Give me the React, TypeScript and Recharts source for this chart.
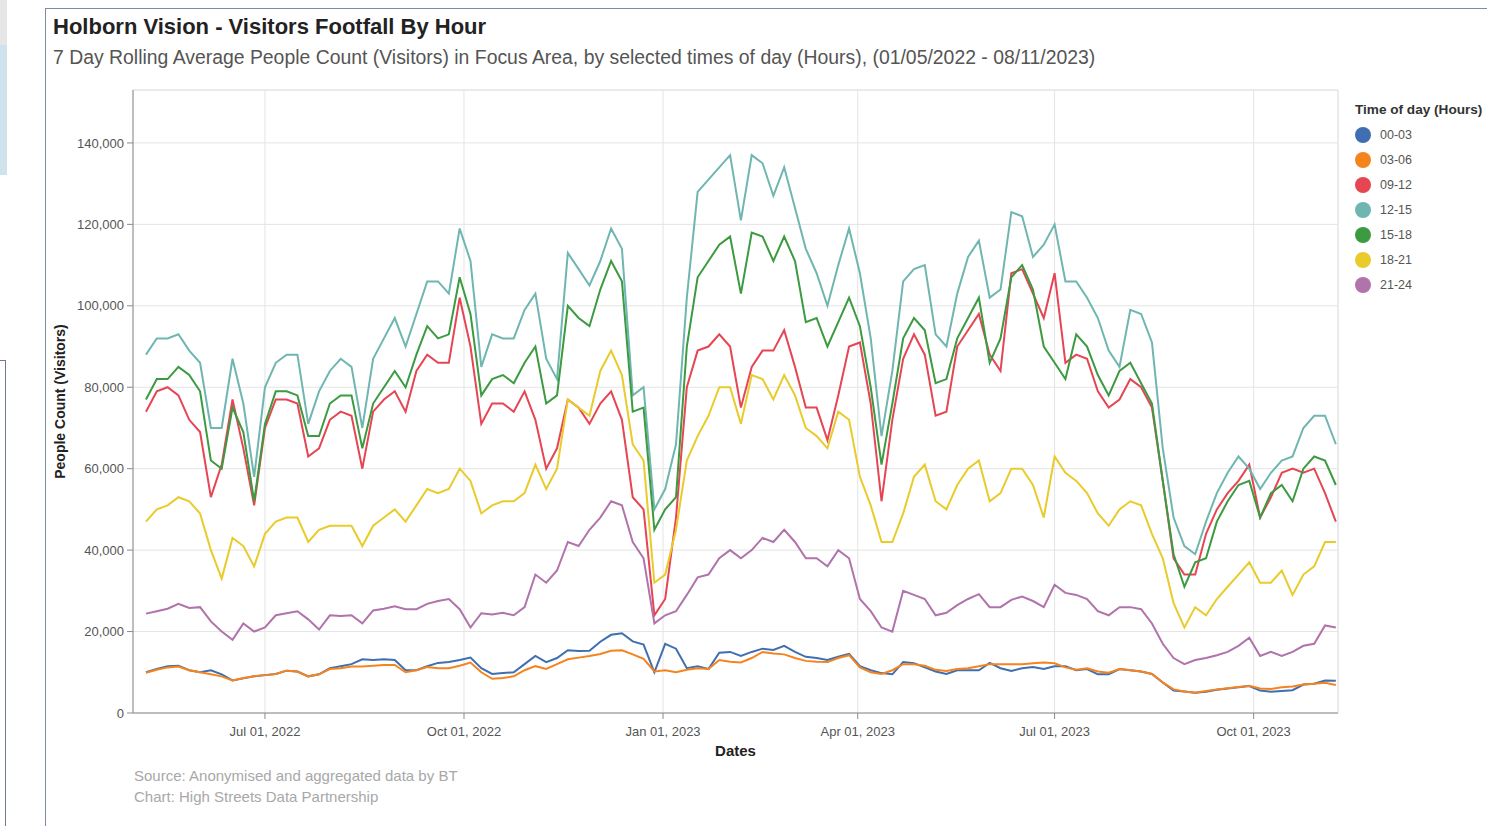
import React from "react";
import { LineChart, Line, XAxis, YAxis, CartesianGrid, ReferenceLine } from "recharts";

// 7-day rolling average, sampled every 5 days
const DATES = [
  "2022-05-07", "2022-05-12", "2022-05-17", "2022-05-22", "2022-05-27",
  "2022-06-01", "2022-06-06", "2022-06-11", "2022-06-16", "2022-06-21", "2022-06-26",
  "2022-07-01", "2022-07-06", "2022-07-11", "2022-07-16", "2022-07-21", "2022-07-26", "2022-07-31",
  "2022-08-05", "2022-08-10", "2022-08-15", "2022-08-20", "2022-08-25", "2022-08-30",
  "2022-09-04", "2022-09-09", "2022-09-14", "2022-09-19", "2022-09-24", "2022-09-29",
  "2022-10-04", "2022-10-09", "2022-10-14", "2022-10-19", "2022-10-24", "2022-10-29",
  "2022-11-03", "2022-11-08", "2022-11-13", "2022-11-18", "2022-11-23", "2022-11-28",
  "2022-12-03", "2022-12-08", "2022-12-13", "2022-12-18", "2022-12-23", "2022-12-28",
  "2023-01-02", "2023-01-07", "2023-01-12", "2023-01-17", "2023-01-22", "2023-01-27",
  "2023-02-01", "2023-02-06", "2023-02-11", "2023-02-16", "2023-02-21", "2023-02-26",
  "2023-03-03", "2023-03-08", "2023-03-13", "2023-03-18", "2023-03-23", "2023-03-28",
  "2023-04-02", "2023-04-07", "2023-04-12", "2023-04-17", "2023-04-22", "2023-04-27",
  "2023-05-02", "2023-05-07", "2023-05-12", "2023-05-17", "2023-05-22", "2023-05-27",
  "2023-06-01", "2023-06-06", "2023-06-11", "2023-06-16", "2023-06-21", "2023-06-26",
  "2023-07-01", "2023-07-06", "2023-07-11", "2023-07-16", "2023-07-21", "2023-07-26", "2023-07-31",
  "2023-08-05", "2023-08-10", "2023-08-15", "2023-08-20", "2023-08-25", "2023-08-30",
  "2023-09-04", "2023-09-09", "2023-09-14", "2023-09-19", "2023-09-24", "2023-09-29",
  "2023-10-04", "2023-10-09", "2023-10-14", "2023-10-19", "2023-10-24", "2023-10-29",
  "2023-11-03", "2023-11-08",
];

const H00_03 = [
  10000, 10800, 11500, 11600, 10500, 10000, 10500, 9500, 8000, 8500,
  9000, 9300, 9600, 10400, 10200, 9000, 9500, 11000, 11500, 12000,
  13200, 13000, 13200, 13000, 10500, 10500, 11500, 12300, 12500, 13000,
  13600, 11000, 9600, 9800, 10000, 12000, 14000, 12500, 13500, 15400,
  15200, 15300, 17500, 19200, 19600, 17600, 16800, 10000, 17000, 15800,
  11000, 11500, 10800, 14800, 15000, 14000, 15000, 15800, 15500, 16500,
  15000, 13800, 13500, 13000, 13800, 14500, 11500, 10500, 9800, 9500,
  12500, 12200, 11200, 10200, 9600, 10500, 10500, 10500, 12300, 11000,
  10300, 11000, 11300, 10800, 11500, 11500, 10500, 10800, 9500, 9500,
  10800, 10500, 10200, 9600, 7500, 5500, 5300, 5000, 5200, 5700,
  6000, 6300, 6600, 5500, 5200, 5400, 5600, 7000, 7200, 8000,
  7900,
];

const H03_06 = [
  9900, 10600, 11200, 11400, 10500, 10000, 9500, 9000, 8000, 8600,
  9000, 9300, 9600, 10400, 10200, 9000, 9500, 10800, 11000, 11400,
  11400, 11600, 11800, 11800, 10000, 10500, 11300, 11000, 11000, 11600,
  12400, 10000, 8400, 8600, 9000, 10500, 11500, 10800, 12000, 13200,
  13600, 14000, 14500, 15300, 15400, 14400, 13300, 10200, 10500, 10000,
  10600, 11000, 10800, 13000, 12600, 12400, 13500, 15000, 14600, 14400,
  13500, 12800, 12600, 12500, 13500, 14200, 11200, 10000, 9600, 10500,
  12000, 12000, 11600, 10600, 10300, 10800, 11000, 11500, 12000, 12000,
  12000, 12000, 12200, 12400, 12200, 11200, 10600, 11000, 10200, 9900,
  10800, 10500, 10200, 9600, 7500, 5800, 5300, 5000, 5400, 5800,
  6100, 6400, 6700, 6000, 5900, 6300, 6500, 7000, 7200, 7400,
  6900,
];

const H09_12 = [
  74000, 79000, 80000, 78000, 72000, 69000, 53000, 61000, 77000, 65000,
  51000, 70000, 77000, 77000, 76000, 63000, 65000, 72000, 74000, 73000,
  60000, 74000, 77000, 79000, 74000, 84000, 88000, 86000, 86000, 102000,
  90000, 71000, 76000, 76000, 74000, 79000, 72000, 60000, 65000, 77000,
  75000, 71000, 76000, 79000, 72000, 53000, 50000, 24000, 28000, 48000,
  80000, 89000, 90000, 93000, 90000, 75000, 85000, 89000, 89000, 94000,
  85000, 75000, 75000, 67000, 78000, 90000, 91000, 76000, 52000, 72000,
  87000, 93000, 88000, 73000, 74000, 90000, 94000, 98000, 88000, 84000,
  108000, 109000, 103000, 97000, 108000, 86000, 88000, 87000, 79000, 75000,
  77000, 82000, 80000, 75000, 57000, 38000, 34000, 34000, 44000, 50000,
  54000, 57000, 61000, 48000, 53000, 59000, 60000, 59000, 60000, 54000,
  47000,
];

const H12_15 = [
  88000, 92000, 92000, 93000, 89000, 86000, 70000, 70000, 87000, 76000,
  58000, 80000, 86000, 88000, 88000, 71000, 79000, 84000, 87000, 85000,
  70000, 87000, 92000, 97000, 90000, 98000, 106000, 106000, 103000, 119000,
  111000, 85000, 93000, 92000, 92000, 99000, 103000, 87000, 82000, 113000,
  109000, 105000, 111000, 119000, 114000, 78000, 80000, 50000, 55000, 66000,
  102000, 128000, 131000, 134000, 137000, 121000, 137000, 135000, 127000, 134000,
  124000, 114000, 108000, 100000, 110000, 119000, 108000, 92000, 68000, 84000,
  106000, 109000, 110000, 93000, 90000, 103000, 112000, 116000, 102000, 104000,
  123000, 122000, 112000, 115000, 120000, 106000, 106000, 102000, 97000, 89000,
  85000, 99000, 98000, 91000, 65000, 48000, 41000, 39000, 47000, 54000,
  59000, 63000, 60000, 55000, 59000, 62000, 63000, 70000, 73000, 73000,
  66000,
];

const H15_18 = [
  77000, 82000, 82000, 85000, 83000, 79000, 62000, 60000, 75000, 69000,
  52000, 71000, 79000, 79000, 78000, 68000, 68000, 76000, 78000, 78000,
  65000, 76000, 80000, 84000, 80000, 88000, 95000, 92000, 93000, 107000,
  98000, 78000, 82000, 83000, 81000, 86000, 90000, 76000, 78000, 100000,
  97000, 95000, 104000, 111000, 106000, 74000, 75000, 45000, 50000, 53000,
  90000, 107000, 111000, 115000, 117000, 103000, 118000, 117000, 111000, 117000,
  111000, 96000, 97000, 90000, 96000, 102000, 95000, 80000, 61000, 76000,
  92000, 97000, 94000, 81000, 82000, 92000, 97000, 102000, 86000, 92000,
  107000, 110000, 104000, 90000, 86000, 82000, 93000, 90000, 83000, 78000,
  84000, 86000, 81000, 76000, 57000, 39000, 31000, 37000, 38000, 47000,
  52000, 56000, 57000, 48000, 54000, 56000, 52000, 60000, 63000, 62000,
  56000,
];

const H18_21 = [
  47000, 50000, 51000, 53000, 52000, 49000, 40000, 33000, 43000, 41000,
  36000, 44000, 47000, 48000, 48000, 42000, 45000, 46000, 46000, 46000,
  41000, 46000, 48000, 50000, 47000, 51000, 55000, 54000, 55000, 60000,
  57000, 49000, 51000, 52000, 52000, 54000, 61000, 55000, 60000, 77000,
  75000, 73000, 84000, 89000, 83000, 66000, 62000, 32000, 34000, 45000,
  62000, 68000, 73000, 80000, 80000, 71000, 83000, 82000, 77000, 83000,
  78000, 70000, 68000, 65000, 74000, 72000, 58000, 51000, 42000, 42000,
  49000, 58000, 61000, 52000, 50000, 56000, 60000, 62000, 52000, 54000,
  60000, 60000, 56000, 48000, 63000, 59000, 57000, 54000, 49000, 46000,
  50000, 52000, 51000, 44000, 38000, 27000, 21000, 26000, 24000, 28000,
  31000, 34000, 37000, 32000, 32000, 35000, 29000, 34000, 36000, 42000,
  42000,
];

const H21_24 = [
  24400, 25000, 25600, 26800, 25800, 26000, 22500, 20000, 18000, 22000,
  20000, 21000, 24000, 24500, 25000, 23000, 20500, 24000, 23800, 24000,
  22000, 25200, 25600, 26200, 25500, 25500, 26800, 27500, 28000, 25500,
  21000, 24500, 24200, 24600, 24000, 26000, 34000, 32000, 35000, 42000,
  41000, 45000, 48000, 52000, 51000, 42000, 38000, 22000, 24000, 25000,
  29000, 33300, 34000, 38000, 40000, 38000, 40000, 43000, 42000, 45000,
  42000, 38000, 38000, 36000, 40000, 38000, 28000, 25000, 21000, 20000,
  30000, 29000, 28000, 24000, 24600, 26500, 28000, 29200, 26000, 26000,
  27800, 28600, 27500, 26000, 31500, 29500, 29000, 28000, 25000, 24000,
  26000, 26000, 25500, 22000, 17000, 13500, 12000, 13000, 13500, 14200,
  15000, 16500, 18500, 14000, 15000, 14000, 15000, 16500, 17000, 21500,
  21000,
];

const SERIES = [
  { key: "h0003", label: "00-03", color: "#3f6fb0", values: H00_03 },
  { key: "h0306", label: "03-06", color: "#f5841f", values: H03_06 },
  { key: "h0912", label: "09-12", color: "#e64553", values: H09_12 },
  { key: "h1215", label: "12-15", color: "#6fb6b1", values: H12_15 },
  { key: "h1518", label: "15-18", color: "#3c9a40", values: H15_18 },
  { key: "h1821", label: "18-21", color: "#e9cb2c", values: H18_21 },
  { key: "h2124", label: "21-24", color: "#b073ab", values: H21_24 },
];

const X_TICKS = ["2022-07-01", "2022-10-01", "2023-01-01", "2023-04-01", "2023-07-01", "2023-10-01"];
const X_TICK_LABELS = ["Jul 01, 2022", "Oct 01, 2022", "Jan 01, 2023", "Apr 01, 2023", "Jul 01, 2023", "Oct 01, 2023"];
const Y_TICKS = [0, 20000, 40000, 60000, 80000, 100000, 120000, 140000];

const X_START = Date.parse("2022-05-01");
const X_END = Date.parse("2023-11-09");
const Y_MAX = 153000;

const FONT = '"Liberation Sans", Arial, sans-serif';
const GRID = "#e4e4e4";
const AXIS = "#8a8a8a";
const TICK_TEXT = "#555";

const X_TICK_TIMES = X_TICKS.map((d) => Date.parse(d));

const chartData = DATES.map((d, i) => {
  const row: Record<string, number> = { t: Date.parse(d) };
  for (const s of SERIES) row[s.key] = s.values[i];
  return row;
});

function formatDateTick(v: number) {
  const idx = X_TICK_TIMES.indexOf(v);
  return idx >= 0 ? X_TICK_LABELS[idx] : "";
}

function YLabel({ viewBox }: any) {
  const x = viewBox.x - 8;
  const y = viewBox.y + viewBox.height / 2;
  return (
    <text
      x={x}
      y={y}
      transform={`rotate(-90, ${x}, ${y})`}
      textAnchor="middle"
      fontSize={14}
      fontWeight="bold"
      fill="#222"
      fontFamily={FONT}
    >
      People Count (Visitors)
    </text>
  );
}

function XLabel({ viewBox }: any) {
  return (
    <text
      x={viewBox.x + viewBox.width / 2}
      y={viewBox.y + 43}
      textAnchor="middle"
      fontSize={15}
      fontWeight="bold"
      fill="#222"
      fontFamily={FONT}
    >
      Dates
    </text>
  );
}

function HoursLegend() {
  return (
    <div style={{ position: "absolute", left: 1355, top: 102, fontFamily: FONT }}>
      <div style={{ fontSize: 13.6, fontWeight: "bold", color: "#333", whiteSpace: "nowrap", lineHeight: "16px" }}>
        Time of day (Hours)
      </div>
      <div style={{ marginTop: 4 }}>
        {SERIES.map((s) => (
          <div key={s.key} style={{ display: "flex", alignItems: "center", height: 25 }}>
            <span
              style={{
                width: 16,
                height: 16,
                borderRadius: "50%",
                background: s.color,
                display: "inline-block",
                flexShrink: 0,
              }}
            />
            <span style={{ marginLeft: 9, fontSize: 12.5, color: "#555" }}>{s.label}</span>
          </div>
        ))}
      </div>
    </div>
  );
}

export default function App() {
  return (
    <div
      style={{
        position: "absolute",
        left: 0,
        top: 0,
        width: 1487,
        height: 826,
        overflow: "hidden",
        background: "#fff",
        fontFamily: FONT,
      }}
    >
      {/* bits of the neighbouring window visible at the left edge */}
      <div style={{ position: "absolute", left: 0, top: 0, width: 7, height: 45, background: "#e6e6e6" }} />
      <div style={{ position: "absolute", left: 0, top: 45, width: 7, height: 130, background: "#cfe3ec" }} />
      <div style={{ position: "absolute", left: 0, top: 360, width: 5, height: 1, background: "#6d7a8f" }} />
      <div style={{ position: "absolute", left: 5, top: 360, width: 1, height: 466, background: "#6d7a8f" }} />

      {/* card frame */}
      <div
        style={{
          position: "absolute",
          left: 45,
          top: 8,
          width: 1460,
          height: 840,
          borderLeft: "1px solid #7d8ca3",
          borderTop: "1px solid #7d8ca3",
        }}
      />

      <div
        style={{
          position: "absolute",
          left: 53,
          top: 16,
          fontSize: 22,
          lineHeight: "22px",
          fontWeight: "bold",
          color: "#222",
          whiteSpace: "nowrap",
        }}
      >
        Holborn Vision - Visitors Footfall By Hour
      </div>
      <div
        style={{
          position: "absolute",
          left: 53,
          top: 48,
          fontSize: 19.4,
          lineHeight: "19px",
          color: "#555",
          whiteSpace: "nowrap",
        }}
      >
        7 Day Rolling Average People Count (Visitors) in Focus Area, by selected times of day (Hours), (01/05/2022 - 08/11/2023)
      </div>

      <div style={{ position: "absolute", left: 0, top: 0 }}>
        <LineChart
          width={1487}
          height={826}
          data={chartData}
          margin={{ top: 90, right: 149, bottom: 83, left: 73 }}
        >
          <CartesianGrid stroke={GRID} strokeWidth={1} />
          <ReferenceLine y={Y_MAX} stroke={GRID} />
          <ReferenceLine x={X_END} stroke={GRID} />
          <XAxis
            dataKey="t"
            type="number"
            domain={[X_START, X_END]}
            ticks={X_TICK_TIMES}
            tickFormatter={formatDateTick}
            allowDataOverflow
            height={30}
            tick={{ fontSize: 13, fill: TICK_TEXT, fontFamily: FONT }}
            tickLine={{ stroke: AXIS }}
            tickSize={6}
            tickMargin={8}
            axisLine={{ stroke: AXIS }}
            label={{ content: <XLabel /> }}
          />
          <YAxis
            domain={[0, Y_MAX]}
            ticks={Y_TICKS}
            allowDataOverflow
            width={60}
            tickFormatter={(v: number) => v.toLocaleString("en-US")}
            tick={{ fontSize: 13, fill: TICK_TEXT, fontFamily: FONT }}
            tickLine={{ stroke: AXIS }}
            tickSize={6}
            tickMargin={3}
            axisLine={{ stroke: AXIS }}
            label={{ content: <YLabel /> }}
          />
          {SERIES.map((s) => (
            <Line
              key={s.key}
              type="linear"
              dataKey={s.key}
              name={s.label}
              stroke={s.color}
              strokeWidth={2}
              dot={false}
              isAnimationActive={false}
            />
          ))}
        </LineChart>
      </div>

      <HoursLegend />

      <div
        style={{
          position: "absolute",
          left: 134,
          top: 765,
          fontSize: 15,
          lineHeight: "21px",
          color: "#a8a8a8",
          whiteSpace: "nowrap",
        }}
      >
        <div>Source: Anonymised and aggregated data by BT</div>
        <div>Chart: High Streets Data Partnership</div>
      </div>
    </div>
  );
}
